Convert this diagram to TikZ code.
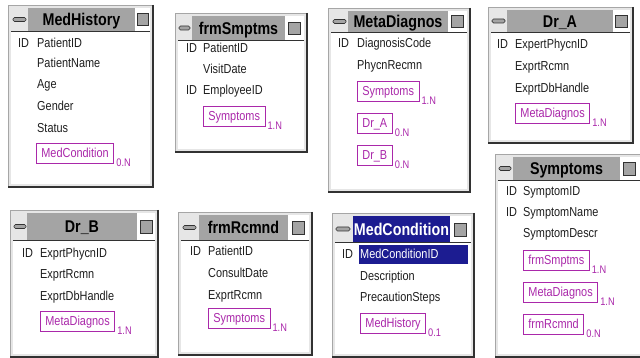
\documentclass[tikz,border=0pt]{standalone}
\usepackage{fontspec}
\setmainfont[FakeStretch=0.84]{Liberation Sans}
\usetikzlibrary{positioning}
\definecolor{winframe}{RGB}{230,230,230}
\definecolor{titlegray}{RGB}{164,164,164}
\definecolor{relpurple}{RGB}{170,40,170}
\definecolor{selnavy}{RGB}{28,28,145}
\definecolor{fldtext}{RGB}{30,30,30}
\definecolor{shadowc}{RGB}{50,50,50}

\begin{document}
\begin{tikzpicture}[
    x=1pt, y=-1pt,
    inner sep=0pt, %no padding unless asked
    fld/.style={anchor=west, text=fldtext, text height=9.3pt, text depth=0pt,
        font=\fontsize{13}{15}\selectfont},
    rel/.style={anchor=west, draw=relpurple, text=relpurple, line width=0.8pt,
        inner xsep=5pt, minimum height=20pt, text height=9.3pt, text depth=0pt,
        font=\fontsize{13}{15}\selectfont},
    card/.style={anchor=west, text=relpurple, xshift=2pt, yshift=1pt,
        text height=7.8pt, text depth=0pt, font=\fontsize{11}{11}\selectfont},
    ttl/.style={text height=12.2pt, text depth=0pt,
        font=\bfseries\fontsize{17}{17}\selectfont},
    frame/.style={fill=winframe, draw=gray!70},
    pane/.style={fill=white},
    shadow/.style={draw=shadowc, line width=2pt},
    tband/.style={fill=titlegray},
    tline/.style={draw=shadowc, line width=0.8pt},
    sqbtn/.style={fill=titlegray, draw=shadowc, line width=0.7pt},
    minbtn/.style={fill=titlegray, draw=shadowc, line width=0.7pt, rounded corners=1.5pt},
    ]
    \useasboundingbox[fill=white] (0,0) rectangle (640,358);

    %MedHistory
    \fill[frame] (8,5) rectangle (153,187);
    \fill[pane] (11,31) rectangle (150,184);
    \draw[shadow] (153,5) -- (153,187) -- (8,187);
    \fill[tband] (28,8) rectangle (135,31);
    \fill[white] (135,8) rectangle (150,31);
    \draw[sqbtn] (137,13) rectangle (148,25);
    \draw[minbtn] (13,17.5) rectangle (26,21.5);
    \draw[tline] (11,31) -- (150,31);
    \node[ttl] (mhTitle) at (81.5,19.5) {MedHistory};
    \node[fld] (mhId) at (18,43) {ID};
    \node[fld] (mhPid) at (37,43) {PatientID};
    \node[fld] (mhName) at (37,63) {PatientName};
    \node[fld] (mhAge) at (37,84) {Age};
    \node[fld] (mhGender) at (37,106) {Gender};
    \node[fld] (mhStatus) at (37,128) {Status};
    \node[rel] (mhRel) at (36,153) {MedCondition};
    \node[card] (mhCard) at (mhRel.south east) {0.N};

    %frmSmptms
    \fill[frame] (175,13) rectangle (307,152);
    \fill[pane] (178,40) rectangle (304,149);
    \draw[shadow] (307,13) -- (307,152) -- (175,152);
    \fill[tband] (192,16) rectangle (285,40);
    \fill[white] (285,16) rectangle (304,40);
    \draw[sqbtn] (288,22) rectangle (300,34);
    \draw[minbtn] (179,26) rectangle (190,30);
    \draw[tline] (178,40) -- (304,40);
    \node[ttl] (fsTitle) at (238.5,28) {frmSmptms};
    \node[fld] (fsId1) at (186,48) {ID};
    \node[fld] (fsPid) at (203,48) {PatientID};
    \node[fld] (fsDate) at (203,69) {VisitDate};
    \node[fld] (fsId2) at (186,90) {ID};
    \node[fld] (fsEmp) at (203,90) {EmployeeID};
    \node[rel] (fsRel) at (203,116) {Symptoms};
    \node[card] (fsCard) at (fsRel.south east) {1.N};

    %MetaDiagnos
    \fill[frame] (328,8) rectangle (470,192);
    \fill[pane] (331,32) rectangle (467,189);
    \draw[shadow] (470,8) -- (470,192) -- (328,192);
    \fill[tband] (348,11) rectangle (448,32);
    \fill[white] (448,11) rectangle (467,32);
    \draw[sqbtn] (451,15) rectangle (463,27);
    \draw[minbtn] (333,19.5) rectangle (346,23.5);
    \draw[tline] (331,32) -- (467,32);
    \node[ttl] (mdTitle) at (398,21.5) {MetaDiagnos};
    \node[fld] (mdId) at (338,43) {ID};
    \node[fld] (mdCode) at (357,43) {DiagnosisCode};
    \node[fld] (mdRecmn) at (357,65) {PhycnRecmn};
    \node[rel] (mdRelS) at (357,91) {Symptoms};
    \node[card] (mdCardS) at (mdRelS.south east) {1.N};
    \node[rel] (mdRelA) at (357,123) {Dr\_A};
    \node[card] (mdCardA) at (mdRelA.south east) {0.N};
    \node[rel] (mdRelB) at (357,155) {Dr\_B};
    \node[card] (mdCardB) at (mdRelB.south east) {0.N};

    %Dr_A
    \fill[frame] (488,7) rectangle (633,143);
    \fill[pane] (491,32) rectangle (630,140);
    \draw[shadow] (633,7) -- (633,143) -- (488,143);
    \fill[tband] (507,10) rectangle (613,32);
    \fill[white] (613,10) rectangle (630,32);
    \draw[sqbtn] (615,15) rectangle (627,27);
    \draw[minbtn] (492,19) rectangle (505,23);
    \draw[tline] (491,32) -- (630,32);
    \node[ttl] (daTitle) at (560,21) {Dr\_A};
    \node[fld] (daId) at (497,44) {ID};
    \node[fld] (daPid) at (515,44) {ExpertPhycnID};
    \node[fld] (daRcmn) at (515,66) {ExprtRcmn};
    \node[fld] (daDb) at (515,88) {ExprtDbHandle};
    \node[rel] (daRel) at (515,113) {MetaDiagnos};
    \node[card] (daCard) at (daRel.south east) {1.N};

    %Symptoms
    \fill[frame] (495,154) rectangle (648,357);
    \fill[pane] (498,180) rectangle (645,354);
    \draw[shadow] (495,357) -- (648,357);
    \fill[tband] (513,157) rectangle (620,180);
    \fill[white] (620,157) rectangle (645,180);
    \draw[sqbtn] (623,162) rectangle (635,175);
    \draw[minbtn] (499,166.5) rectangle (511,170.5);
    \draw[tline] (498,180) -- (645,180);
    \node[ttl] (syTitle) at (566.5,168.5) {Symptoms};
    \node[fld] (syId1) at (506,191) {ID};
    \node[fld] (sySid) at (523,191) {SymptomID};
    \node[fld] (syId2) at (506,212) {ID};
    \node[fld] (syName) at (523,212) {SymptomName};
    \node[fld] (syDescr) at (523,233) {SymptomDescr};
    \node[rel] (syRelF) at (523,260) {frmSmptms};
    \node[card] (syCardF) at (syRelF.south east) {1.N};
    \node[rel] (syRelM) at (523,292) {MetaDiagnos};
    \node[card] (syCardM) at (syRelM.south east) {1.N};
    \node[rel] (syRelR) at (523,324) {frmRcmnd};
    \node[card] (syCardR) at (syRelR.south east) {0.N};

    %Dr_B
    \fill[frame] (10,210) rectangle (158,357);
    \fill[pane] (13,240) rectangle (155,354);
    \draw[shadow] (158,210) -- (158,357) -- (10,357);
    \fill[tband] (27,213) rectangle (137,240);
    \fill[white] (137,213) rectangle (155,240);
    \draw[sqbtn] (140,220) rectangle (152,233);
    \draw[minbtn] (14,224.5) rectangle (26,228.5);
    \draw[tline] (13,240) -- (155,240);
    \node[ttl] (dbTitle) at (82,226.5) {Dr\_B};
    \node[fld] (dbId) at (22,253) {ID};
    \node[fld] (dbPid) at (40,253) {ExprtPhycnID};
    \node[fld] (dbRcmn) at (40,274) {ExprtRcmn};
    \node[fld] (dbDb) at (40,296) {ExprtDbHandle};
    \node[rel] (dbRel) at (40,321) {MetaDiagnos};
    \node[card] (dbCard) at (dbRel.south east) {1.N};

    %frmRcmnd
    \fill[frame] (178,212) rectangle (312,355);
    \fill[pane] (181,240) rectangle (309,352);
    \draw[shadow] (312,212) -- (312,355) -- (178,355);
    \fill[tband] (199,215) rectangle (288,240);
    \fill[white] (288,215) rectangle (309,240);
    \draw[sqbtn] (292,221) rectangle (304,234);
    \draw[minbtn] (183,225.5) rectangle (196,229.5);
    \draw[tline] (181,240) -- (309,240);
    \node[ttl] (frTitle) at (243.5,227.5) {frmRcmnd};
    \node[fld] (frId) at (190,251) {ID};
    \node[fld] (frPid) at (208,251) {PatientID};
    \node[fld] (frDate) at (208,273) {ConsultDate};
    \node[fld] (frRcmn) at (208,295) {ExprtRcmn};
    \node[rel] (frRel) at (208,318) {Symptoms};
    \node[card] (frCard) at (frRel.south east) {1.N};

    %MedCondition
    \fill[frame] (332,213) rectangle (474,357);
    \fill[pane] (335,242) rectangle (471,354);
    \draw[shadow] (474,213) -- (474,357) -- (332,357);
    \fill[selnavy] (353,216) rectangle (450,242);
    \fill[white] (450,216) rectangle (471,242);
    \draw[sqbtn] (454,223) rectangle (466,236);
    \draw[minbtn] (336,227) rectangle (350,231);
    \draw[tline] (335,242) -- (471,242);
    \node[ttl, text=white] (mcTitle) at (401.5,229) {MedCondition};
    \node[fld] (mcId) at (342,254) {ID};
    \fill[selnavy] (359,245) rectangle (468,264);
    \node[fld, text=white] (mcCid) at (360,254) {MedConditionID};
    \node[fld] (mcDescr) at (360,276) {Description};
    \node[fld] (mcSteps) at (360,297) {PrecautionSteps};
    \node[rel] (mcRel) at (360,323) {MedHistory};
    \node[card] (mcCard) at (mcRel.south east) {0.1};

\end{tikzpicture}
\end{document}
